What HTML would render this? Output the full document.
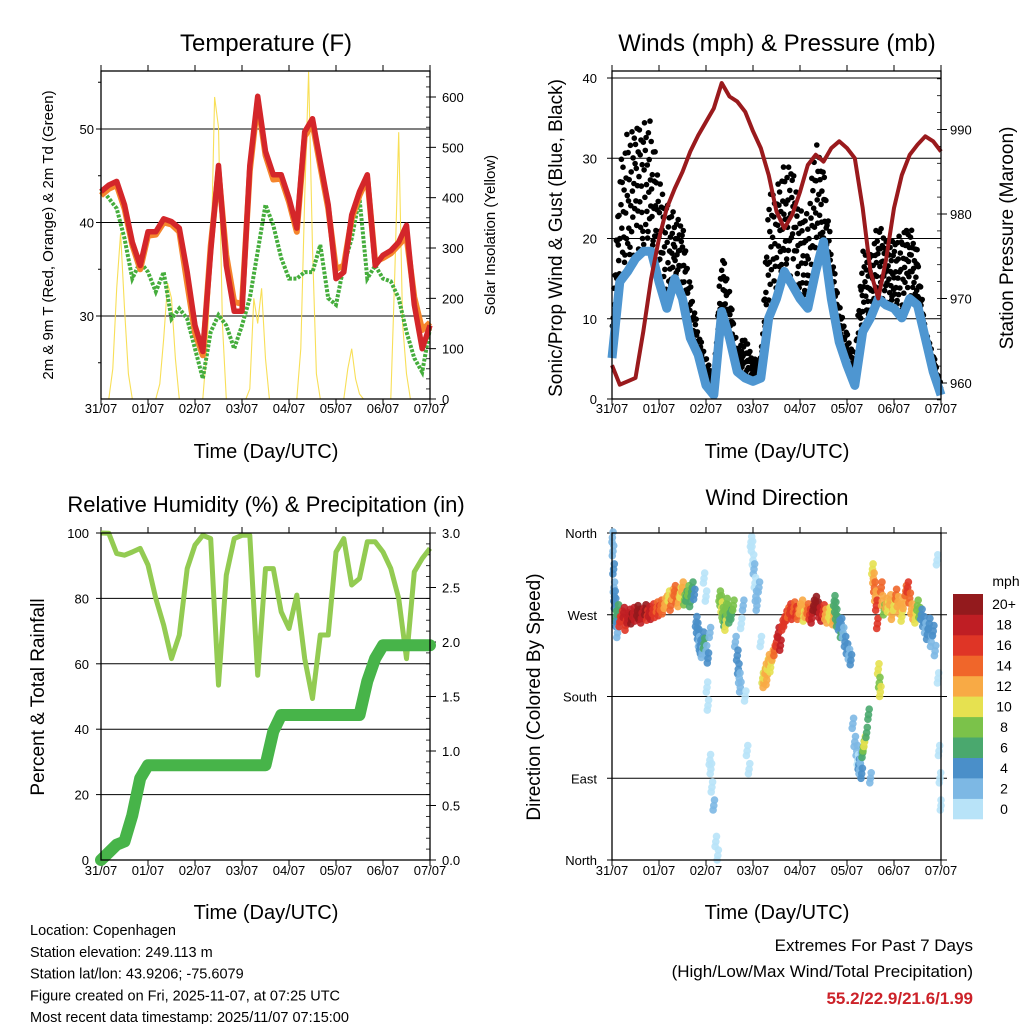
<!DOCTYPE html>
<html><head><meta charset="utf-8"><style>
body{margin:0;background:#fff;}
svg{display:block;font-family:"Liberation Sans",sans-serif;}
</style></head><body>
<svg id="root" width="1024" height="1024" viewBox="0 0 1024 1024" xmlns="http://www.w3.org/2000/svg"></svg>
<script>
// ---------- DATA (4-hour steps, t = 0..168 h) ----------
const dayLabels=['31/07','01/07','02/07','03/07','04/07','05/07','06/07','07/07'];
const tempRed=[43.3,44.0,44.4,41.9,37.9,35.4,39.0,39.0,40.4,40.1,39.4,34.7,29.0,26.2,36.9,46.1,35.4,30.5,30.5,46.1,53.5,47.6,45.1,45.1,42.6,39.4,49.7,51.1,46.5,41.9,34.0,34.7,40.8,43.3,45.1,35.4,36.5,37.0,37.9,39.7,31.2,26.5,29.0];
const tempOrange=[42.9,43.6,44.0,41.5,37.6,35.0,38.6,38.7,40.0,39.8,39.0,33.5,28.2,25.8,37.5,45.5,36.5,31.5,31.3,45.5,53.0,47.2,44.6,44.7,42.2,39.0,49.2,50.6,46.0,41.5,35.0,35.4,40.4,42.9,44.7,35.8,36.2,36.7,37.6,38.5,32.0,28.5,29.3];
const dewGreen=[43.6,42.6,41.5,38.3,34.0,35.8,34.7,32.6,34.7,29.7,30.8,29.7,26.5,23.3,28.3,30.1,29.0,26.5,29.0,31.9,36.9,41.9,39.7,36.2,34.0,34.0,34.7,34.7,37.6,31.9,31.2,35.4,38.3,42.6,34.0,35.4,34.0,33.7,31.9,28.3,25.5,24.0,28.7];
// solar at 2-hour steps (85 values)
const solar=[0,0,0,60,220,330,180,50,0,0,0,0,
 0,0,0,30,120,230,200,80,0,0,0,0,
 0,0,0,100,250,600,540,150,0,0,0,0,
 0,0,20,200,150,220,80,0,0,0,0,0,
 0,0,0,100,400,650,300,50,0,0,0,0,
 0,0,0,60,100,40,10,0,0,0,0,0,
 0,0,0,250,530,150,50,0,0,0,0,0,0];
const windSpeed=[5.1,14.6,15.9,17.5,18.4,18.4,14.6,11.3,15.0,12.5,7.6,5.5,1.7,0.5,10.9,7.6,3.4,2.6,2.2,2.6,10.1,12.5,15.9,14.2,12.5,11.3,15.9,19.6,12.5,7.1,4.2,1.7,8.4,10.1,12.5,11.7,11.3,10.1,12.5,11.7,7.6,3.4,0.5];
const windGust=[8.4,30.0,33.3,33.3,35.4,34.5,27.1,25.0,22.9,21.7,14.6,8.4,5.1,3.0,18.8,13.4,6.7,7.6,5.1,5.1,25.0,27.1,29.1,28.7,24.2,22.9,32.1,29.1,18.8,11.7,8.4,5.1,18.4,18.4,22.1,19.6,20.8,20.0,22.5,18.4,8.4,5.9,1.7];
const pressure=[962.1,959.8,960.2,960.6,966.1,972.4,977.1,980.7,983.0,985.0,987.4,989.3,990.9,992.5,995.5,993.9,993.3,992.1,989.8,987.8,984.6,980.3,978.3,979.9,982.6,985.8,987.0,986.2,987.8,988.6,987.8,986.6,980.7,973.2,970.0,974.7,980.7,984.6,987.0,988.2,989.2,988.6,987.4];
const relHum=[100,99.9,93.7,93.2,94.2,95.3,90.2,80.0,71.8,61.6,68.8,89.1,96.3,99.3,98.3,53.5,87.1,98.3,99.3,99.3,56.5,89.1,89.1,75.9,70.8,81.0,61.6,49.4,68.8,68.8,94.2,98.3,84.1,86.1,97.3,97.3,94.2,89.1,80.0,61.6,88.1,92.2,95.3];
const precip=[0,0.07,0.14,0.17,0.41,0.75,0.87,0.87,0.87,0.87,0.87,0.87,0.87,0.87,0.87,0.87,0.87,0.87,0.87,0.87,0.87,0.87,1.18,1.33,1.33,1.33,1.33,1.33,1.33,1.33,1.33,1.33,1.33,1.33,1.64,1.85,1.97,1.97,1.97,1.97,1.97,1.97,1.97];
// wind direction points: time (h), direction (deg), speed (mph)
const dirTime=[0.2,0.5,0.8,1.0,1.3,1.6,2.0,2.4,2.8,3.0,
 4,5,6,7,8,9,10,11,12,13,14,15,16,17,18,19,20,21,22,23,24,25,26,27,
 28,29,30,31,32,33,34,35,36,37,38,39,40,41,42,
 43,43.5,44,44.5,45,45.5,46,46.5,47,48,49,50,
 47,48,48.5,49,50,50.5,51,52,53,54,
 55,55.5,56,56.5,57,57.5,58,58.5,59,60,61,62,
 63,64,64.5,65,65.5,66,67,68,69,70,
 71,71.5,72,72.5,73,73.5,74,75,76,77,
 77,77.5,78,78.5,79,79.5,80,81,82,83,
 84,85,86,87,88,89,90,91,92,93,94,95,96,97,98,
 99,100,101,102,103,104,105,106,107,108,109,110,111,112,113,
 113.5,114,114.5,115,116,117,
 117,118,119,120,121,122,
 123,124,125,125.5,126,126.5,127,127.5,128,128.5,129,130,131,132,
 133,133.5,134,134.5,135,135.5,136,136.5,137,137.5,138,
 139,140,141,142,143,144,145,146,147,148,149,150,151,152,153,154,155,156,157,
 158,159,160,161,162,163,164,165,
 166,166.5,167,167.5,168];
const dirVal=[355,340,320,300,290,282,268,262,250,275,
 262,268,272,258,266,270,265,272,268,274,270,266,271,275,269,273,270,276,272,278,274,280,276,282,
 285,290,280,292,296,288,284,294,300,286,290,296,284,300,292,
 262,255,248,240,236,232,228,245,238,230,222,250,
 310,290,190,170,110,100,80,60,20,5,
 290,285,278,272,268,262,258,282,275,266,270,280,
 240,225,210,200,190,260,280,180,120,100,
 350,345,330,320,305,290,280,300,240,200,
 200,195,205,210,198,215,220,212,225,230,
 240,250,236,258,262,268,272,276,270,278,273,270,276,280,268,
 272,276,270,266,280,284,278,272,268,275,270,266,272,268,264,
 285,278,270,262,258,250,
 260,250,240,232,226,220,
 150,130,120,110,105,100,112,95,118,125,130,140,160,90,
 320,310,300,290,280,260,210,195,185,300,285,
 275,282,278,286,270,280,292,284,276,268,282,296,300,288,276,270,266,280,272,
 270,262,255,248,260,240,252,230,
 330,200,120,90,60];
const dirSpeed=[3,2,4,3,4,5,6,4,3,6,
 16,17,18,17,19,18,20,19,18,20,21,19,18,20,17,19,18,16,17,15,16,14,15,13,
 12,11,14,13,15,14,12,11,13,9,7,8,6,7,5,
 4,5,4,3,4,5,3,4,6,3,4,2,
 0,1,0,1,0,1,0,2,1,0,
 8,9,10,9,8,7,10,9,8,7,6,8,
 3,4,4,2,3,1,2,0,1,0,
 0,1,1,2,1,2,3,2,1,0,
 11,12,10,12,13,11,12,10,13,14,
 16,18,19,17,16,17,15,17,16,14,16,15,13,12,11,
 12,14,16,18,20,21,20,19,18,16,13,12,11,10,12,
 7,6,7,6,5,6,
 4,3,5,4,3,5,
 2,2,3,1,4,2,3,5,6,8,10,7,6,3,
 10,13,15,12,16,17,10,9,11,14,13,
 9,12,11,13,12,10,14,13,12,11,13,15,16,14,12,13,11,9,8,
 5,4,3,5,4,3,4,2,
 1,0,1,0,0];
const speedTicks=['0','2','4','6','8','10','12','14','16','18','20+'];
const speedColors=['#b8e3f8','#7db8e4','#4a8fc9','#4aa86e','#7bc24a','#e6e150','#f8aa45','#f0662a','#df3526','#bf1e24','#931a1d'];
// ---------- HELPERS ----------
const NS='http://www.w3.org/2000/svg';
const root=document.getElementById('root');
function el(tag,attrs,parent){const e=document.createElementNS(NS,tag);for(const k in attrs)e.setAttribute(k,attrs[k]);(parent||root).appendChild(e);return e;}
function txt(s,x,y,size,anchor,parent,extra){const e=el('text',Object.assign({x:x,y:y,'font-size':size,'text-anchor':anchor||'middle',fill:'#000'},extra||{}),parent);e.textContent=s;return e;}
function makeScale(d0,d1,r0,r1){return v=>r0+(v-d0)/(d1-d0)*(r1-r0);}
const tStep=4;
function panelFrame(g,x0,y0,x1,y1,xlabY){
  const xs=makeScale(0,168,x0,x1);
  dayLabels.forEach((d,i)=>{
    const x=xs(i*24);
    el('line',{x1:x,y1:y0,x2:x,y2:y0-6,stroke:'#000','stroke-width':1},g);
    el('line',{x1:x,y1:y1,x2:x,y2:y1+6,stroke:'#000','stroke-width':1},g);
    const t=txt(d,x,xlabY,13,'middle',g);
    
    
  });
  return xs;
}
function border(g,x0,y0,x1,y1){const r=el('rect',{x:x0,y:y0,width:x1-x0,height:y1-y0,fill:'none',stroke:'#000','stroke-width':1.3},g);}
function polyPts(arr,xs,ys,step){return arr.map((v,i)=>xs(i*step).toFixed(1)+','+ys(v).toFixed(1)).join(' ');}
function rotText(s,x,y,size,g){const t=txt(s,x,y,size,'middle',g,{transform:'rotate(-90 '+x+' '+y+')'});return t;}

// ================= PANEL 1: TEMPERATURE =================
{
const g=el('g',{});


const x0=101,x1=430,y0=71,y1=399;
const xs=panelFrame(g,x0,y0,x1,y1,413);
const ys=makeScale(30,40,316,222.5);
const ysol=makeScale(0,600,399,97);
[30,40,50].forEach(v=>{el('line',{x1:x0,x2:x1,y1:ys(v),y2:ys(v),stroke:'#000','stroke-width':1},g);
  const t=txt(String(v),94,ys(v)+5,13,'end',g);
  el('line',{x1:x0,x2:x0-5,y1:ys(v),y2:ys(v),stroke:'#000'},g);});
[25,35,45,55].forEach(v=>el('line',{x1:x0,x2:x0-3,y1:ys(v),y2:ys(v),stroke:'#000'},g));
for(let v=0;v<=600;v+=100){const t=txt(String(v),442,ysol(v)+5,13,'start',g);
  el('line',{x1:x1,x2:x1+6,y1:ysol(v),y2:ysol(v),stroke:'#000'},g);}
for(let v=20;v<650;v+=20){el('line',{x1:x1-4,x2:x1,y1:ysol(v),y2:ysol(v),stroke:'#000','stroke-width':0.8},g);}
const sol=el('polyline',{points:polyPts(solar,xs,ysol,2),fill:'none',stroke:'#f7dc45','stroke-width':1.1,opacity:0.9},g);

const gr=el('polyline',{points:polyPts(dewGreen,xs,ys,tStep),fill:'none',stroke:'#45ad3c','stroke-width':4,'stroke-dasharray':'3 1.5'},g);

const or=el('polyline',{points:polyPts(tempOrange,xs,ys,tStep),fill:'none',stroke:'#f5852c','stroke-width':6,'stroke-linejoin':'round'},g);

const rd=el('polyline',{points:polyPts(tempRed,xs,ys,tStep),fill:'none',stroke:'#d4262a','stroke-width':5.5,'stroke-linejoin':'round'},g);

border(g,x0,y0,x1,y1);
const tt=txt('Temperature (F)',266,51,24,'middle',g);
const xt=txt('Time (Day/UTC)',266,458,20,'middle',g);
const yl=rotText('2m & 9m T (Red, Orange) & 2m Td (Green)',53,235,15,g);
const yr=rotText('Solar Insolation (Yellow)',495,235,15,g);
}
// ================= PANEL 2: WINDS =================
{
const g=el('g',{});


const x0=612,x1=941,y0=71,y1=399;
const xs=panelFrame(g,x0,y0,x1,y1,413);
const ys=makeScale(0,40,399,78);
const yp=makeScale(960,990,383,129.5);
for(let v=0;v<=40;v+=10){if(v>0)el('line',{x1:x0,x2:x1,y1:ys(v),y2:ys(v),stroke:'#000','stroke-width':1},g);
  const t=txt(String(v),597,ys(v)+5,13,'end',g);
  el('line',{x1:x0,x2:x0-5,y1:ys(v),y2:ys(v),stroke:'#000'},g);}
[960,970,980,990].forEach(v=>{const t=txt(String(v),950,yp(v)+5,13,'start',g);
  el('line',{x1:x1,x2:x1+6,y1:yp(v),y2:yp(v),stroke:'#000'},g);});
for(let v=958;v<998;v+=2)el('line',{x1:x1-4,x2:x1,y1:yp(v),y2:yp(v),stroke:'#000','stroke-width':0.8},g);
// gust dots
const fr=[0.15,0.9,0.45,0.7,0.25,1.0,0.55,0.35,0.8,0.05,0.6,0.95,0.4,0.75,0.2,0.85,0.5,0.3,0.65,0.1];
const dg=el('g',{},g);
for(let i=0;i<windSpeed.length-1;i++){
  for(let j=0;j<20;j++){
    const f=j/20, t=(i+f)*tStep;
    const w=windSpeed[i]+(windSpeed[i+1]-windSpeed[i])*f;
    const gu=windGust[i]+(windGust[i+1]-windGust[i])*f;
    const v=w+(gu-w)*fr[(j+i*7)%20];
    const c=el('circle',{cx:xs(t).toFixed(1),cy:ys(v).toFixed(1),r:2.8,fill:'#000'},dg);
    
    
  }
}
const wl=el('polyline',{points:polyPts(windSpeed,xs,ys,tStep),fill:'none',stroke:'#4e96d1','stroke-width':9,'stroke-linejoin':'round'},g);

const pl=el('polyline',{points:polyPts(pressure,xs,yp,tStep),fill:'none',stroke:'#9a1a1d','stroke-width':4,'stroke-linejoin':'round'},g);

border(g,x0,y0,x1,y1);
const tt=txt('Winds (mph) & Pressure (mb)',777,51,24,'middle',g);
const xt=txt('Time (Day/UTC)',777,458,20,'middle',g);
const yl=rotText('Sonic/Prop Wind & Gust (Blue, Black)',562,238,19,g);
const yr=rotText('Station Pressure (Maroon)',1013,238,19,g);
}
// ================= PANEL 3: RH & PRECIP =================
{
const g=el('g',{});


const x0=101,x1=430,y0=533,y1=860;
const xs=panelFrame(g,x0,y0,x1,y1,875);
const ys=makeScale(0,100,860,533);
const yp=makeScale(0,3,860,533);
for(let v=0;v<=100;v+=20){if(v>0&&v<100)el('line',{x1:x0,x2:x1,y1:ys(v),y2:ys(v),stroke:'#000','stroke-width':1},g);
  const t=txt(String(v),89,ys(v)+5,13,'end',g);
  el('line',{x1:x0,x2:x0-5,y1:ys(v),y2:ys(v),stroke:'#000'},g);}
for(let v=0;v<=3.001;v+=0.5){const t=txt(v.toFixed(1),442,yp(v)+5,13,'start',g);
  el('line',{x1:x1,x2:x1+6,y1:yp(v),y2:yp(v),stroke:'#000'},g);}
for(let v=0.1;v<3;v+=0.1)el('line',{x1:x1-4,x2:x1,y1:yp(v),y2:yp(v),stroke:'#000','stroke-width':0.8},g);
const rh=el('polyline',{points:polyPts(relHum,xs,ys,tStep),fill:'none',stroke:'#93cb52','stroke-width':5,'stroke-linejoin':'round'},g);

const pr=el('polyline',{points:polyPts(precip,xs,yp,tStep),fill:'none',stroke:'#47b449','stroke-width':12,'stroke-linejoin':'round','stroke-linecap':'round'},g);

border(g,x0,y0,x1,y1);
const tt=txt('Relative Humidity (%) & Precipitation (in)',266,512,22,'middle',g);
const xt=txt('Time (Day/UTC)',266,919,20,'middle',g);
const yl=rotText('Percent & Total Rainfall',44,697,19,g);
}
// ================= PANEL 4: WIND DIRECTION =================
{
const g=el('g',{});


const x0=612,x1=941,y0=533,y1=860;
const xs=panelFrame(g,x0,y0,x1,y1,875);
const ys=makeScale(0,360,860,533);
const dl=['North','East','South','West','North'];
dl.forEach((d,i)=>{const v=i*90;if(v>0&&v<360)el('line',{x1:x0,x2:x1,y1:ys(v),y2:ys(v),stroke:'#000','stroke-width':1},g);
  const t=txt(d,597,ys(v)+5,13,'end',g);
  el('line',{x1:x0,x2:x0-5,y1:ys(v),y2:ys(v),stroke:'#000'},g);
  el('line',{x1:x1,x2:x1+6,y1:ys(v),y2:ys(v),stroke:'#000'},g);});
const pg=el('g',{},g);
const jit=[[0,0],[-0.35,-5],[0.35,6]];
const n=Math.min(dirTime.length,dirVal.length,dirSpeed.length);
for(let i=0;i<n;i++){
  const s=dirSpeed[i];const bin=Math.max(0,Math.min(10,Math.floor(s/2)));
  jit.forEach(o=>{
    const t=Math.max(0,Math.min(168,dirTime[i]+o[0]));
    const c=el('circle',{cx:xs(t).toFixed(1),cy:ys(dirVal[i]+o[1]).toFixed(1),r:3.8,fill:speedColors[bin],opacity:0.9},pg);
    
    
  });
}
border(g,x0,y0,x1,y1);
// colorbar
const cb=el('g',{},g);
const bh=225/11;
speedColors.forEach((c,i)=>{const y=819-(i+1)*bh;
  const r=el('rect',{x:953,y:y.toFixed(1),width:30,height:(bh+0.3).toFixed(1),fill:c},cb);
  
  const t=txt(speedTicks[i],1004,y+bh/2+5,14,'middle',cb);});
const mu=txt('mph',1006,586,14,'middle',cb);
const tt=txt('Wind Direction',777,505,22,'middle',g);
const xt=txt('Time (Day/UTC)',777,919,20,'middle',g);
const yl=rotText('Direction (Colored By Speed)',540,697,19,g);
}
// ================= FOOTER TEXT =================
{
const g=el('g',{});


const lines=['Location: Copenhagen','Station elevation: 249.113 m','Station lat/lon: 43.9206; -75.6079','Figure created on Fri, 2025-11-07, at 07:25 UTC','Most recent data timestamp: 2025/11/07 07:15:00'];
lines.forEach((s,i)=>{const t=txt(s,30,935+i*21.8,14.5,'start',g);});
const e=el('g',{});


const a=txt('Extremes For Past 7 Days',973,951,17,'end',e);
const b=txt('(High/Low/Max Wind/Total Precipitation)',973,977,17,'end',e);
const c=txt('55.2/22.9/21.6/1.99',973,1004,17,'end',e,{fill:'#cc2229','font-weight':'bold'});
}
</script>
</body></html>
